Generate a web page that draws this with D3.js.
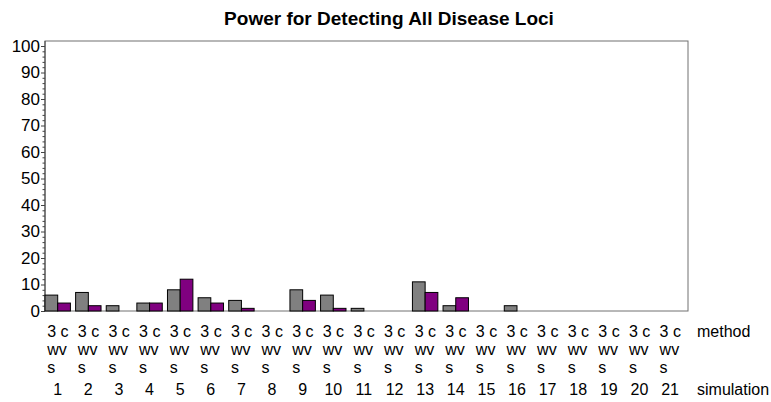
<!DOCTYPE html>
<html><head><meta charset="utf-8">
<script src="https://cdn.jsdelivr.net/npm/d3@7"></script>
<style>body{margin:0;background:#fff}svg{display:block;font-family:"Liberation Sans",Arial,sans-serif}</style>
</head><body><div id="chart"></div>
<script>
const simulations = ["1","2","3","4","5","6","7","8","9","10","11","12","13","14","15","16","17","18","19","20","21"];
const methods = ["3ws","cvs"];
const methodLines = ["3 c","wv","s"];
const power3ws = [6,7,2,3,8,5,4,0,8,6,1,0,11,2,0,2,0,0,0,0,0];
const powerCvs = [3,2,0,3,12,3,1,0,4,1,0,0,7,5,0,0,0,0,0,0,0];
const yTicks = [0,10,20,30,40,50,60,70,80,90,100];
const colors = ["#808080","#800080"];
const title = "Power for Detecting All Disease Loci";

const W=771,H=402;
const m={l:45,r:83,t:41,b:91};
const svg=d3.select("#chart").append("svg").attr("width",W).attr("height",H);
const x0=d3.scaleBand().domain(simulations).range([m.l,W-m.r]).paddingInner(0.17).paddingOuter(0.085).align(0);
const x1=d3.scaleBand().domain(methods).range([0,x0.bandwidth()]);
const y=d3.scaleLinear().domain([0,100]).range([H-m.b,46]);

svg.append("text").attr("x",389).attr("y",25).attr("text-anchor","middle")
  .attr("font-weight","bold").attr("font-size",19).text(title);

// frame
svg.append("rect").attr("x",m.l).attr("y",m.t).attr("width",W-m.r-m.l).attr("height",H-m.b-m.t)
  .attr("fill","none").attr("stroke","#707070").attr("stroke-width",1);

// y axis
const ya=svg.append("g").attr("transform",`translate(${m.l},0)`)
  .call(d3.axisLeft(y).tickValues(yTicks).tickSize(4).tickPadding(1));
ya.select(".domain").remove();
ya.selectAll("line").attr("stroke","#444");
ya.selectAll("text").attr("font-size",17).attr("fill","#000").attr("font-family","Liberation Sans, Arial, sans-serif");
const minor=d3.range(0,101,2).filter(v=>v%10!==0);
svg.append("g").attr("transform",`translate(${m.l},0)`)
  .call(d3.axisLeft(y).tickValues(minor).tickSize(2.5).tickFormat(""))
  .call(g=>g.select(".domain").remove())
  .selectAll("line").attr("stroke","#444");
svg.append("line").attr("x1",m.l).attr("x2",m.l).attr("y1",m.t).attr("y2",H-m.b).attr("stroke","#444");

// bars
const rows=simulations.map((s,i)=>({s,vals:[power3ws[i],powerCvs[i]]}));
const g=svg.append("g").selectAll("g").data(rows).join("g").attr("transform",d=>`translate(${x0(d.s)},0)`);
g.selectAll("rect").data(d=>d.vals.map((v,j)=>({v,m:methods[j],j})).filter(d=>d.v>0)).join("rect")
  .attr("x",d=>x1(d.m)).attr("width",x1.bandwidth())
  .attr("y",d=>y(d.v)).attr("height",d=>y(0)-y(d.v))
  .attr("fill",d=>colors[d.j]).attr("stroke","#000").attr("stroke-width",1);

// x labels
const lab=svg.append("g").selectAll("g").data(simulations).join("g")
  .attr("transform",d=>`translate(${x0(d)+x0.bandwidth()/2},0)`);
methodLines.forEach((t,k)=>{
  lab.append("text").attr("x",-10.5).attr("y",337+k*18).attr("font-size",16).text(t);
});
lab.append("text").attr("y",395).attr("text-anchor","middle").attr("font-size",16).text(d=>d);
svg.append("text").attr("x",697).attr("y",337).attr("font-size",16).text("method");
svg.append("text").attr("x",697).attr("y",395).attr("font-size",16).text("simulation");
</script></body></html>
